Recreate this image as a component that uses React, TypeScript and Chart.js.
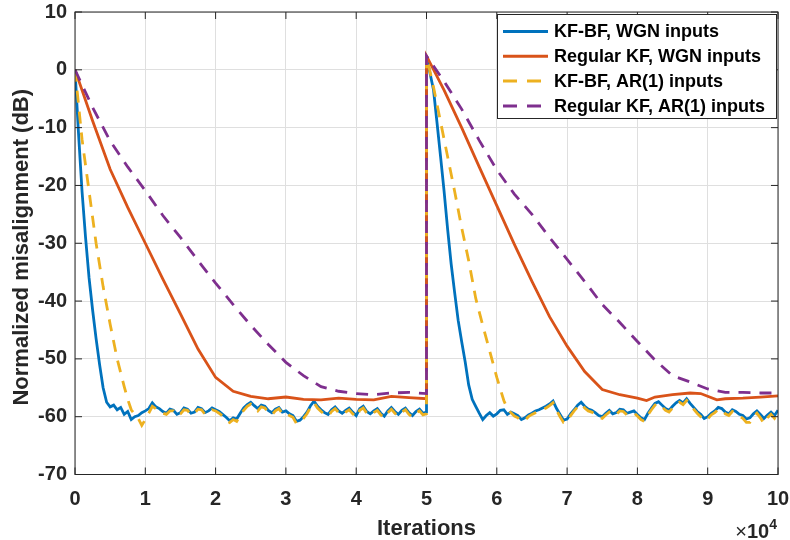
import { useEffect, useRef } from "react";
import { Chart, registerables } from "chart.js";

Chart.register(...registerables);

const FONT = "'Liberation Sans', Arial, Helvetica, sans-serif";

const seriesLabels = [
  "KF-BF, WGN inputs",
  "Regular KF, WGN inputs",
  "KF-BF, AR(1) inputs",
  "Regular KF, AR(1) inputs",
];
const seriesColors = ["#0072BD", "#D95319", "#EDB120", "#7E2F8E"];

const xTicks = [0, 1, 2, 3, 4, 5, 6, 7, 8, 9, 10];
const xTickLabels = ["0", "1", "2", "3", "4", "5", "6", "7", "8", "9", "10"];
const yTicks = [10, 0, -10, -20, -30, -40, -50, -60, -70];
const yTickLabels = ["10", "0", "-10", "-20", "-30", "-40", "-50", "-60", "-70"];
const xAxisTitle = "Iterations";
const yAxisTitle = "Normalized misalignment (dB)";
const xExponent = "4";

// [iterations x 1e4, misalignment dB]
const kfbfWgn: [number, number][] = [
  [0, 0], [0.05, -11], [0.1, -21], [0.15, -29], [0.2, -36], [0.25, -41.5], [0.3, -46.5], [0.35, -51],
  [0.4, -55], [0.45, -57.5], [0.5, -58.3], [0.55, -58.0], [0.6, -58.8], [0.65, -58.4], [0.7, -59.6],
  [0.75, -59.1], [0.8, -60.5], [0.85, -60.0], [0.9, -59.8], [0.95, -59.3], [1.0, -59.0], [1.05, -58.6],
  [1.1, -57.6], [1.15, -58.3], [1.2, -58.6], [1.25, -59.1], [1.3, -59.4], [1.35, -58.7], [1.4, -58.9],
  [1.45, -59.6], [1.5, -59.3], [1.55, -58.5], [1.6, -58.7], [1.65, -59.4], [1.7, -59.2], [1.75, -58.4],
  [1.8, -58.6], [1.85, -59.3], [1.9, -59.0], [1.95, -58.5], [2.0, -58.8], [2.05, -59.1], [2.1, -59.6],
  [2.15, -60.1], [2.2, -60.7], [2.25, -60.2], [2.3, -60.4], [2.35, -59.4], [2.4, -58.5], [2.45, -57.9],
  [2.5, -57.5], [2.55, -58.1], [2.6, -58.6], [2.65, -58.0], [2.7, -58.2], [2.75, -58.9], [2.8, -59.3],
  [2.85, -58.7], [2.9, -58.4], [2.95, -59.2], [3.0, -59.0], [3.05, -59.5], [3.1, -59.8], [3.15, -60.8],
  [3.2, -60.6], [3.25, -60.0], [3.3, -59.2], [3.35, -58.1], [3.4, -57.3], [3.45, -58.2], [3.5, -58.8],
  [3.55, -59.3], [3.6, -59.6], [3.65, -58.8], [3.7, -58.3], [3.75, -59.0], [3.8, -59.4], [3.85, -58.9],
  [3.9, -58.5], [3.95, -59.2], [4.0, -59.8], [4.05, -58.6], [4.1, -58.2], [4.15, -59.1], [4.2, -59.5],
  [4.25, -59.0], [4.3, -58.6], [4.35, -59.4], [4.4, -59.9], [4.45, -59.0], [4.5, -58.4], [4.55, -59.1],
  [4.6, -59.6], [4.65, -58.9], [4.7, -58.5], [4.75, -59.3], [4.8, -59.8], [4.85, -59.1], [4.9, -58.7],
  [4.95, -59.4], [5.0, -59.2],
  [5.0, 2.4], [5.05, -0.6], [5.1, -3.5], [5.15, -9.2], [5.2, -15], [5.25, -21], [5.3, -27.5],
  [5.35, -33.5], [5.4, -38.5], [5.45, -43.3], [5.5, -47], [5.55, -50.5], [5.6, -54.5], [5.65, -57],
  [5.7, -58.2], [5.75, -59.4], [5.8, -60.5], [5.85, -59.8], [5.9, -59.3], [5.95, -59.9], [6.0, -59.5],
  [6.05, -58.9], [6.1, -58.8], [6.15, -59.6], [6.2, -59.2], [6.25, -59.5], [6.3, -59.8], [6.35, -60.5],
  [6.4, -60.2], [6.45, -59.7], [6.5, -59.4], [6.55, -59.0], [6.6, -58.8], [6.65, -58.5], [6.7, -58.2],
  [6.75, -57.8], [6.8, -57.3], [6.85, -58.6], [6.9, -59.6], [6.95, -60.6], [7.0, -60.4], [7.05, -59.5],
  [7.1, -58.8], [7.15, -58.0], [7.2, -57.5], [7.25, -58.2], [7.3, -58.7], [7.35, -58.9], [7.4, -59.3],
  [7.45, -59.8], [7.5, -60.0], [7.55, -59.4], [7.6, -58.9], [7.65, -59.5], [7.7, -59.3], [7.75, -58.7],
  [7.8, -58.8], [7.85, -59.4], [7.9, -59.2], [7.95, -59.0], [8.0, -59.6], [8.05, -60.2], [8.1, -60.5],
  [8.15, -59.4], [8.2, -58.5], [8.25, -57.7], [8.3, -57.4], [8.35, -58.0], [8.4, -58.6], [8.45, -58.9],
  [8.5, -58.2], [8.55, -57.6], [8.6, -57.2], [8.65, -57.6], [8.7, -56.9], [8.75, -57.7], [8.8, -58.4],
  [8.85, -59.1], [8.9, -59.6], [8.95, -60.3], [9.0, -60.0], [9.05, -59.4], [9.1, -59.0], [9.15, -58.4],
  [9.2, -58.6], [9.25, -59.2], [9.3, -59.5], [9.35, -58.8], [9.4, -59.1], [9.45, -59.6], [9.5, -59.8],
  [9.55, -60.4], [9.6, -60.2], [9.65, -59.5], [9.7, -59.0], [9.75, -59.6], [9.8, -60.3], [9.85, -59.7],
  [9.9, -59.2], [9.95, -59.8], [10.0, -58.9],
];

const regularWgn: [number, number][] = [
  [0, 0], [0.25, -8.8], [0.5, -17.2], [0.75, -23.8], [1.0, -30], [1.25, -36.2], [1.5, -42.2],
  [1.75, -48.3], [2.0, -53.2], [2.25, -55.6], [2.5, -56.5], [2.75, -56.9], [3.0, -56.6], [3.25, -57.0],
  [3.5, -57.1], [3.75, -56.8], [4.0, -57.0], [4.25, -57.1], [4.5, -56.5], [4.75, -56.7], [5.0, -56.9],
  [5.0, 2.4], [5.25, -3.5], [5.5, -10], [5.75, -16.8], [6.0, -23.5], [6.25, -30.2], [6.5, -36.6],
  [6.75, -42.7], [7.0, -47.8], [7.25, -52.2], [7.5, -55.3], [7.75, -56.2], [8.0, -56.8], [8.13, -57.2],
  [8.25, -56.6], [8.5, -56.2], [8.75, -55.9], [8.9, -56.0], [9.13, -57.1], [9.25, -56.9], [9.5, -56.8],
  [9.75, -56.6], [10.0, -56.4],
];

const kfbfAr: [number, number][] = [
  [0, 0], [0.1, -12], [0.2, -21], [0.3, -30], [0.4, -37.5], [0.5, -44], [0.6, -50], [0.7, -54.8],
  [0.75, -57], [0.8, -58.8], [0.85, -59.6], [0.9, -60.3], [0.95, -61.5], [1.0, -60.5], [1.05, -59.4],
  [1.1, -58.2], [1.15, -58.6], [1.2, -58.9], [1.25, -59.4], [1.3, -59.6], [1.35, -59.0], [1.4, -59.0],
  [1.45, -59.8], [1.5, -59.5], [1.55, -58.8], [1.6, -58.9], [1.65, -59.7], [1.7, -59.4], [1.75, -58.7],
  [1.8, -58.8], [1.85, -59.6], [1.9, -59.3], [1.95, -58.8], [2.0, -59.0], [2.05, -59.4], [2.1, -59.9],
  [2.15, -60.6], [2.2, -61.0], [2.25, -60.5], [2.3, -60.8], [2.35, -59.8], [2.4, -58.9], [2.45, -58.2],
  [2.5, -57.8], [2.55, -58.4], [2.6, -59.0], [2.65, -58.3], [2.7, -58.5], [2.75, -59.2], [2.8, -59.7],
  [2.85, -59.0], [2.9, -58.6], [2.95, -59.5], [3.0, -59.3], [3.05, -59.8], [3.1, -60.1], [3.15, -61.2],
  [3.2, -61.0], [3.25, -60.3], [3.3, -59.5], [3.35, -58.4], [3.4, -57.6], [3.45, -58.5], [3.5, -59.1],
  [3.55, -59.6], [3.6, -59.9], [3.65, -59.1], [3.7, -58.6], [3.75, -59.3], [3.8, -59.7], [3.85, -59.2],
  [3.9, -58.8], [3.95, -59.5], [4.0, -60.1], [4.05, -58.9], [4.1, -58.5], [4.15, -59.4], [4.2, -59.8],
  [4.25, -59.3], [4.3, -58.9], [4.35, -59.7], [4.4, -60.2], [4.45, -59.3], [4.5, -58.7], [4.55, -59.4],
  [4.6, -59.9], [4.65, -59.2], [4.7, -58.8], [4.75, -59.6], [4.8, -60.1], [4.85, -59.4], [4.9, -59.0],
  [4.95, -59.7], [5.0, -59.5],
  [5.0, 2.4], [5.1, -3], [5.2, -9], [5.3, -15], [5.4, -21], [5.5, -27.3], [5.6, -33], [5.7, -39.5],
  [5.8, -44.2], [5.9, -48.7], [6.0, -53.2], [6.1, -57.2], [6.15, -58.6], [6.2, -59.3], [6.25, -59.9],
  [6.3, -60.2], [6.35, -60.8], [6.4, -60.6], [6.45, -60.0], [6.5, -59.6], [6.55, -59.3], [6.6, -59.0],
  [6.65, -58.8], [6.7, -58.5], [6.75, -58.1], [6.8, -57.6], [6.85, -58.9], [6.9, -60.0], [6.95, -61.0],
  [7.0, -60.9], [7.05, -59.8], [7.1, -59.0], [7.15, -58.3], [7.2, -57.8], [7.25, -58.5], [7.3, -59.0],
  [7.35, -59.2], [7.4, -59.6], [7.45, -60.1], [7.5, -60.3], [7.55, -59.7], [7.6, -59.2], [7.65, -59.8],
  [7.7, -59.6], [7.75, -59.0], [7.8, -59.1], [7.85, -59.7], [7.9, -59.5], [7.95, -59.3], [8.0, -59.9],
  [8.05, -60.5], [8.1, -60.8], [8.15, -59.7], [8.2, -58.8], [8.25, -58.0], [8.3, -57.7], [8.35, -58.3],
  [8.4, -58.9], [8.45, -59.2], [8.5, -58.5], [8.55, -57.9], [8.6, -57.5], [8.65, -57.9], [8.7, -57.2],
  [8.75, -58.0], [8.8, -58.7], [8.85, -59.4], [8.9, -60.0], [8.95, -60.7], [9.0, -60.4], [9.05, -59.7],
  [9.1, -59.3], [9.15, -58.7], [9.2, -58.9], [9.25, -59.5], [9.3, -59.8], [9.35, -59.1], [9.4, -59.4],
  [9.45, -59.9], [9.5, -60.3], [9.55, -61.0], [9.6, -61.0], [9.65, -60.0], [9.7, -59.4], [9.75, -60.2],
  [9.8, -61.2], [9.85, -60.2], [9.9, -59.6], [9.95, -60.3], [10.0, -59.2],
];

const regularAr: [number, number][] = [
  [0, 0], [0.25, -6.5], [0.5, -12.3], [0.75, -16.8], [1.0, -20.9], [1.25, -25.2], [1.5, -29],
  [1.75, -33], [2.0, -36.9], [2.25, -40.6], [2.5, -44.2], [2.75, -47.5], [3.0, -50.6], [3.25, -52.9],
  [3.5, -54.8], [3.75, -55.6], [4.0, -56.0], [4.25, -56.2], [4.5, -55.9], [4.75, -55.8], [5.0, -56.0],
  [5.0, 2.4], [5.25, -2], [5.5, -6.8], [5.75, -12.2], [6.0, -17.3], [6.25, -21.5], [6.5, -25],
  [6.75, -29], [7.0, -32.8], [7.25, -36.6], [7.5, -40.6], [7.75, -43.7], [8.0, -47], [8.25, -50.2],
  [8.5, -52.9], [8.75, -54], [9.0, -55.2], [9.25, -55.8], [9.5, -55.8], [9.75, -55.9], [10.0, -55.9],
];

const seriesData = [kfbfWgn, regularWgn, kfbfAr, regularAr];
const seriesDashed = [false, false, true, true];
const DASH = [12, 9];
const AXIS_COLOR = "#262626";

const decorPlugin = {
  id: "matlabDecor",
  afterDatasetsDraw(chart: any) {
    const { ctx, chartArea: a, scales } = chart;
    const xs = scales.x;
    const ys = scales.y;
    ctx.save();
    // axes box
    ctx.strokeStyle = AXIS_COLOR;
    ctx.lineWidth = 1;
    ctx.strokeRect(a.left, a.top, a.right - a.left, a.bottom - a.top);
    // inward ticks
    const tl = 7;
    ctx.beginPath();
    xTicks.forEach((v) => {
      const px = xs.getPixelForValue(v);
      ctx.moveTo(px, a.bottom);
      ctx.lineTo(px, a.bottom - tl);
      ctx.moveTo(px, a.top);
      ctx.lineTo(px, a.top + tl);
    });
    yTicks.forEach((v) => {
      const py = ys.getPixelForValue(v);
      ctx.moveTo(a.left, py);
      ctx.lineTo(a.left + tl, py);
      ctx.moveTo(a.right, py);
      ctx.lineTo(a.right - tl, py);
    });
    ctx.stroke();

    // legend
    const bx = a.right - 281;
    const by = a.top + 2;
    const bw = 280;
    const bh = 104;
    ctx.fillStyle = "#ffffff";
    ctx.fillRect(bx, by, bw, bh);
    ctx.strokeStyle = AXIS_COLOR;
    ctx.lineWidth = 1;
    ctx.strokeRect(bx + 0.5, by + 0.5, bw - 1, bh);
    ctx.font = `bold 18px ${FONT}`;
    ctx.textBaseline = "middle";
    ctx.textAlign = "left";
    chart.data.datasets.forEach((ds: any, i: number) => {
      const cy = by + 17.5 + i * 24.8;
      ctx.beginPath();
      ctx.strokeStyle = ds.borderColor;
      ctx.lineWidth = 3;
      ctx.setLineDash(ds.borderDash && ds.borderDash.length ? [14, 10] : []);
      ctx.moveTo(bx + 6, cy);
      ctx.lineTo(bx + 51, cy);
      ctx.stroke();
      ctx.setLineDash([]);
      ctx.fillStyle = "#000000";
      ctx.fillText(ds.label, bx + 57, cy + 1);
    });
    ctx.restore();
  },
  afterDraw(chart: any) {
    const { ctx, chartArea: a } = chart;
    ctx.save();
    ctx.fillStyle = AXIS_COLOR;
    // x title
    ctx.font = `bold 22px ${FONT}`;
    ctx.textAlign = "center";
    ctx.textBaseline = "alphabetic";
    ctx.fillText(xAxisTitle, (a.left + a.right) / 2, a.bottom + 60.5);
    // y title
    ctx.save();
    ctx.translate(a.left - 47, (a.top + a.bottom) / 2 + 4);
    ctx.rotate(-Math.PI / 2);
    ctx.fillText(yAxisTitle, 0, 0);
    ctx.restore();
    // exponent x10^4
    const baseY = a.bottom + 63.5;
    let right = a.right - 1;
    ctx.textAlign = "right";
    ctx.font = `bold 14px ${FONT}`;
    ctx.fillText(xExponent, right, baseY - 9);
    right -= ctx.measureText(xExponent).width;
    ctx.font = `bold 20px ${FONT}`;
    ctx.fillText("10", right, baseY);
    right -= ctx.measureText("10").width;
    ctx.font = `20px ${FONT}`;
    ctx.fillText("\u00d7", right, baseY);
    ctx.restore();
  },
};

const zeroPadding = (s: any) => {
  s.paddingLeft = 0;
  s.paddingRight = 0;
  s.paddingTop = 0;
  s.paddingBottom = 0;
};

export default function App() {
  const ref = useRef<HTMLCanvasElement>(null);
  useEffect(() => {
    document.body.style.margin = "0";
    const canvas = ref.current!;
    const chart = new Chart(canvas, {
      type: "line",
      data: {
        datasets: seriesData.map((pts, i) => ({
          label: seriesLabels[i],
          data: pts.map(([x, y]) => ({ x, y })),
          borderColor: seriesColors[i],
          backgroundColor: seriesColors[i],
          borderWidth: 2.8,
          borderDash: seriesDashed[i] ? DASH : [],
          pointRadius: 0,
          fill: false,
          tension: 0,
          order: 4 - i,
        })),
      },
      options: {
        animation: false,
        responsive: false,
        events: [],
        layout: { padding: { top: 12, right: 12, left: 0, bottom: 0 } },
        plugins: { legend: { display: false }, tooltip: { enabled: false } },
        scales: {
          x: {
            type: "linear",
            min: 0,
            max: 10,
            afterBuildTicks: (s: any) => {
              s.ticks = xTicks.map((v) => ({ value: v }));
            },
            afterFit: (s: any) => {
              s.height = 65.5;
              zeroPadding(s);
            },
            grid: { color: "#dfdfdf", lineWidth: 1, drawTicks: false },
            border: { display: false },
            ticks: {
              font: { family: FONT, size: 20, weight: "bold" },
              color: AXIS_COLOR,
              padding: 13,
              maxRotation: 0,
              autoSkip: false,
              callback: (v: any) => {
                const k = xTicks.indexOf(Number(v));
                return k >= 0 ? xTickLabels[k] : "";
              },
            },
          },
          y: {
            type: "linear",
            min: -70,
            max: 10,
            afterBuildTicks: (s: any) => {
              s.ticks = yTicks.map((v) => ({ value: v }));
            },
            afterFit: (s: any) => {
              s.width = 75;
              zeroPadding(s);
            },
            grid: { color: "#dfdfdf", lineWidth: 1, drawTicks: false },
            border: { display: false },
            ticks: {
              font: { family: FONT, size: 20, weight: "bold" },
              color: AXIS_COLOR,
              padding: 8,
              autoSkip: false,
              callback: (v: any) => {
                const k = yTicks.indexOf(Number(v));
                return k >= 0 ? yTickLabels[k] : "";
              },
            },
          },
        },
      },
      plugins: [decorPlugin],
    } as any);
    return () => chart.destroy();
  }, []);
  return (
    <div style={{ width: 790, height: 540 }}>
      <canvas ref={ref} width={790} height={540} style={{ display: "block" }} />
    </div>
  );
}
